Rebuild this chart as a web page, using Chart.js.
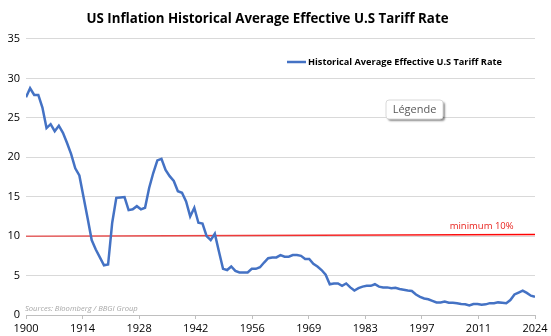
<!DOCTYPE html>
<html>
<head>
<meta charset="utf-8">
<script src="https://cdn.jsdelivr.net/npm/chart.js@4.4.1/dist/chart.umd.min.js"></script>
<style>
  html, body { margin: 0; padding: 0; background: #ffffff; }
  #wrap { width: 551px; height: 336px; position: relative; }
</style>
</head>
<body>
<div id="wrap"><canvas id="chart" width="551" height="336"></canvas></div>
<script>
// Years covered by the series (one value per year)
const years = Array.from({ length: 125 }, (_, i) => 1900 + i);

// Average effective US tariff rate, %
const tariffRate = [
  27.6, 28.75, 27.9, 27.9, 26.3, 23.7, 24.2, 23.3, 24.0, 23.1,
  21.8, 20.4, 18.6, 17.7, 15.0, 12.3, 9.5, 8.3, 7.3, 6.3,
  6.4, 11.7, 14.85, 14.9, 14.95, 13.3, 13.4, 13.8, 13.4, 13.6,
  16.1, 18.0, 19.6, 19.8, 18.4, 17.6, 17.0, 15.7, 15.5, 14.4,
  12.5, 13.6, 11.7, 11.6, 10.0, 9.5, 10.3, 8.05, 5.85, 5.7,
  6.15, 5.6, 5.4, 5.4, 5.4, 5.85, 5.85, 6.05, 6.65, 7.2,
  7.3, 7.3, 7.6, 7.4, 7.4, 7.6, 7.6, 7.5, 7.1, 7.1,
  6.5, 6.15, 5.7, 5.1, 3.9, 4.0, 4.0, 3.7, 4.0, 3.5,
  3.1, 3.4, 3.6, 3.7, 3.7, 3.9, 3.6, 3.5, 3.5, 3.4,
  3.45, 3.3, 3.2, 3.1, 3.05, 2.6, 2.3, 2.1, 2.0, 1.8,
  1.6, 1.6, 1.7, 1.55, 1.55, 1.5, 1.4, 1.35, 1.2, 1.4,
  1.4, 1.3, 1.35, 1.5, 1.5, 1.6, 1.55, 1.5, 1.9, 2.6,
  2.85, 3.1, 2.8, 2.45, 2.3
];

// Reference line: minimum 10%
const minYears = [1900, 2024];
const minLevel = [10, 10.2];
const minLabel = 'minimum 10%';

// Axis labels
const xTickLabels = ['1900', '1914', '1928', '1942', '1956', '1969', '1983', '1997', '2011', '2024'];
const yTickValues = [0, 5, 10, 15, 20, 25, 30, 35];

const titleText = 'US Inflation Historical Average Effective U.S Tariff Rate';
const seriesName = 'Historical Average Effective U.S Tariff Rate';
const sourceText = 'Sources: Bloomberg / BBGI Group';
const boxText = 'Légende';

const FONT = "'Open Sans', Lato, sans-serif";
const BLUE = '#4472c4';

// Extra text drawn on top of the plot: legend, reference-line label, source, "Légende" box
const overlay = {
  id: 'overlay',
  afterDatasetsDraw(chart) {
    const { ctx, chartArea, scales } = chart;
    const x = scales.x, y = scales.y;
    ctx.save();

    // legend entry
    const ly = 62, lx = 287;
    ctx.strokeStyle = BLUE;
    ctx.lineWidth = 2.5;
    ctx.beginPath();
    ctx.moveTo(lx, ly);
    ctx.lineTo(lx + 19, ly);
    ctx.stroke();
    ctx.fillStyle = '#000000';
    ctx.font = "bold 9.2px " + FONT;
    ctx.textAlign = 'left';
    ctx.textBaseline = 'middle';
    ctx.fillText(chart.data.datasets[0].label, lx + 21, ly);

    // reference line label
    ctx.fillStyle = '#e8241f';
    ctx.font = "9.5px " + FONT;
    ctx.textAlign = 'center';
    ctx.textBaseline = 'middle';
    ctx.fillText(minLabel, x.getPixelForValue(2011), y.getPixelForValue(10.1) - 9);

    // source note
    ctx.fillStyle = '#a6a6a6';
    ctx.font = "italic 7.6px " + FONT;
    ctx.textAlign = 'left';
    ctx.fillText(sourceText, chartArea.left - 1, 309);

    // "Légende" box
    const bx = 386, by = 100, bw = 57, bh = 19;
    ctx.shadowColor = 'rgba(0,0,0,0.45)';
    ctx.shadowOffsetX = 2;
    ctx.shadowOffsetY = 2;
    ctx.shadowBlur = 2;
    ctx.fillStyle = '#ffffff';
    ctx.beginPath();
    ctx.roundRect(bx, by, bw, bh, 3);
    ctx.fill();
    ctx.shadowColor = 'transparent';
    ctx.strokeStyle = '#d9d9d9';
    ctx.lineWidth = 1;
    ctx.stroke();
    ctx.fillStyle = '#595959';
    ctx.font = "11px " + FONT;
    ctx.textAlign = 'center';
    ctx.fillText(boxText, bx + bw / 2, by + bh / 2 + 0.5);

    ctx.restore();
  }
};

const ctx = document.getElementById('chart').getContext('2d');
new Chart(ctx, {
  type: 'line',
  data: {
    datasets: [
      {
        label: seriesName,
        data: years.map((yr, i) => ({ x: yr, y: tariffRate[i] })),
        borderColor: BLUE,
        borderWidth: 2.5,
        pointRadius: 0,
        tension: 0,
        order: 1
      },
      {
        label: minLabel,
        data: minYears.map((yr, i) => ({ x: yr, y: minLevel[i] })),
        borderColor: (c) => {
          const area = c.chart.chartArea;
          if (!area) return '#ff0000';
          const g = c.chart.ctx.createLinearGradient(area.left, 0, area.right, 0);
          g.addColorStop(0, '#e46464');
          g.addColorStop(1, '#ff0000');
          return g;
        },
        borderWidth: 1.5,
        pointRadius: 0,
        order: 2
      }
    ]
  },
  options: {
    responsive: false,
    animation: false,
    layout: { padding: { left: 0, right: 16, top: 0, bottom: 0 } },
    plugins: {
      legend: { display: false },
      tooltip: { enabled: false },
      title: {
        display: true,
        text: titleText,
        color: '#000000',
        font: { family: FONT, size: 13.3, weight: 'bold' },
        padding: { top: 11, bottom: 12 }
      }
    },
    scales: {
      x: {
        type: 'linear',
        min: 1900,
        max: 2024,
        afterBuildTicks: (scale) => {
          const n = xTickLabels.length - 1;
          scale.ticks = xTickLabels.map((_, k) => ({ value: 1900 + (2024 - 1900) * k / n }));
        },
        ticks: {
          callback: (v, i) => xTickLabels[i],
          color: '#000000',
          font: { family: FONT, size: 11 },
          maxRotation: 0,
          autoSkip: false,
          padding: 3
        },
        afterFit: (scale) => { scale.height = 21; },
        grid: {
          drawOnChartArea: false,
          drawTicks: true,
          tickLength: 4,
          color: '#bfbfbf'
        },
        border: { display: true, color: '#bfbfbf' }
      },
      y: {
        min: 0,
        max: 35,
        afterBuildTicks: (scale) => {
          scale.ticks = yTickValues.map(v => ({ value: v }));
        },
        afterFit: (scale) => { scale.width = 26; },
        ticks: {
          color: '#000000',
          font: { family: FONT, size: 11 },
          padding: 6
        },
        grid: {
          color: '#d9d9d9',
          drawTicks: false
        },
        border: { display: false }
      }
    }
  },
  plugins: [overlay]
});
</script>
</body>
</html>
